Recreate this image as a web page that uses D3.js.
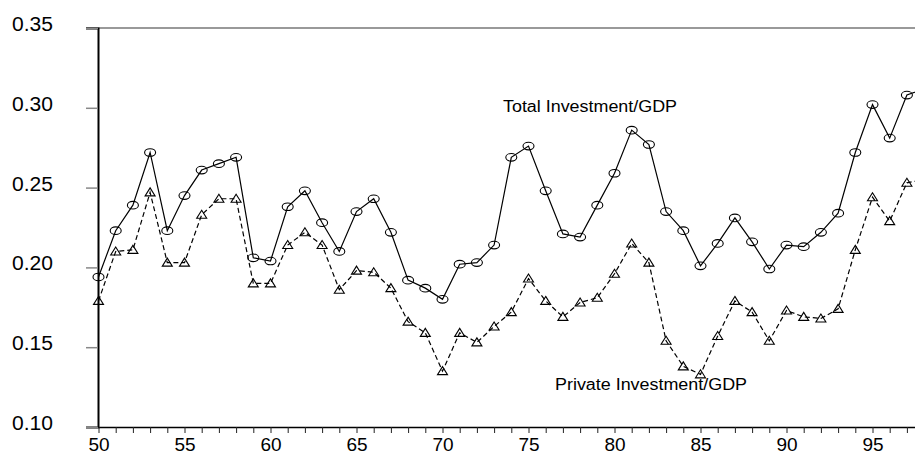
<!DOCTYPE html>
<html>
<head>
<meta charset="utf-8">
<script src="https://cdn.jsdelivr.net/npm/d3@7"></script>
<style>
    body { margin: 0; background: #fff; }
    #chart { width: 915px; height: 456px; overflow: hidden; }
    text { font-family: "Liberation Sans", Arial, sans-serif; fill: #000; font-weight: normal; }
</style>
</head>
<body>
<div id="chart"></div>
<script>
// Jahre 1950 - 1998 (zweistellig)
const years = d3.range(50, 99);

const totalInvestment = [
    0.194, 0.223, 0.239, 0.272, 0.223, 0.245, 0.261, 0.265, 0.269, 0.206,
    0.204, 0.238, 0.248, 0.228, 0.210, 0.235, 0.243, 0.222, 0.192, 0.187,
    0.180, 0.202, 0.203, 0.214, 0.269, 0.276, 0.248, 0.221, 0.219, 0.239,
    0.259, 0.286, 0.277, 0.235, 0.223, 0.201, 0.215, 0.231, 0.216, 0.199,
    0.214, 0.213, 0.222, 0.234, 0.272, 0.302, 0.281, 0.308, 0.312
];

const privateInvestment = [
    0.179, 0.210, 0.211, 0.247, 0.203, 0.203, 0.233, 0.243, 0.243, 0.190,
    0.190, 0.214, 0.222, 0.214, 0.186, 0.198, 0.197, 0.187, 0.166, 0.159,
    0.135, 0.159, 0.153, 0.163, 0.172, 0.193, 0.179, 0.169, 0.178, 0.181,
    0.196, 0.215, 0.203, 0.154, 0.138, 0.133, 0.157, 0.179, 0.172, 0.154,
    0.173, 0.169, 0.168, 0.174, 0.211, 0.244, 0.229, 0.253, 0.255
];

const yTicks = [0.10, 0.15, 0.20, 0.25, 0.30, 0.35];
const xLabelYears = [50, 55, 60, 65, 70, 75, 80, 85, 90, 95];

let width = 915;
let height = 456;

let svg = d3.select("#chart").append("svg")
    .attr("width", width)
    .attr("height", height);

// Skalen
let xscale = d3.scaleLinear().domain([50, 98]).range([98.5, 924.1]);
let yscale = d3.scaleLinear().domain([0.10, 0.35]).range([427, 28]);

// obere Rahmenlinie
svg.append("line")
    .attr("x1", 86).attr("x2", width)
    .attr("y1", 28).attr("y2", 28)
    .attr("stroke", "#777")
    .attr("stroke-width", 1.5);

// y-Achse
let yAxis = svg.append("g")
    .attr("transform", "translate(98,0)")
    .call(d3.axisLeft(yscale)
        .tickValues(yTicks)
        .tickSize(12)
        .tickPadding(33)
        .tickFormat(d3.format(".2f")));
yAxis.attr("font-family", null);
yAxis.select(".domain").attr("stroke", "#000").attr("stroke-width", 2);
yAxis.selectAll(".tick line").attr("stroke", "#888").attr("stroke-width", 1.5);
yAxis.selectAll(".tick text")
    .attr("font-size", 20)
    .attr("dy", "0.12em")
    .attr("textLength", 41)
    .attr("lengthAdjust", "spacingAndGlyphs");

// x-Achse
let xAxis = svg.append("g")
    .attr("transform", "translate(0,427)")
    .call(d3.axisBottom(xscale)
        .tickValues(years)
        .tickSize(6)
        .tickSizeOuter(0)
        .tickPadding(5)
        .tickFormat(d => xLabelYears.includes(d) ? d : ""));
xAxis.attr("font-family", null);
xAxis.select(".domain").attr("stroke", "#000").attr("stroke-width", 1.5);
xAxis.selectAll(".tick line").attr("stroke", "#222").attr("stroke-width", 1);
xAxis.selectAll(".tick text")
    .attr("font-size", 19)
    .attr("dy", "0.71em");

// Linien
let line = d3.line()
    .x((d, i) => xscale(years[i]))
    .y(d => yscale(d));

svg.append("path")
    .datum(totalInvestment)
    .attr("d", line)
    .attr("fill", "none")
    .attr("stroke", "#000")
    .attr("stroke-width", 1.2);

svg.append("path")
    .datum(privateInvestment)
    .attr("d", line)
    .attr("fill", "none")
    .attr("stroke", "#000")
    .attr("stroke-width", 1.2)
    .attr("stroke-dasharray", "5,3");

// Marker: Ellipsen fuer Total
svg.selectAll(".circ")
    .data(totalInvestment)
    .join("ellipse")
    .attr("class", "circ")
    .attr("cx", (d, i) => xscale(years[i]))
    .attr("cy", d => yscale(d))
    .attr("rx", 5.5)
    .attr("ry", 3.8)
    .attr("fill", "none")
    .attr("stroke", "#000")
    .attr("stroke-width", 1.1);

// Marker: Dreiecke fuer Private
svg.selectAll(".tri")
    .data(privateInvestment)
    .join("path")
    .attr("class", "tri")
    .attr("transform", (d, i) => `translate(${xscale(years[i])},${yscale(d)})`)
    .attr("d", "M0,-4.5L5,3.5L-5,3.5Z")
    .attr("fill", "none")
    .attr("stroke", "#000")
    .attr("stroke-width", 1.1);

// Beschriftungen
svg.append("text")
    .attr("x", 503).attr("y", 111.5)
    .attr("font-size", 16)
    .attr("textLength", 174)
    .attr("lengthAdjust", "spacingAndGlyphs")
    .text("Total Investment/GDP");

svg.append("text")
    .attr("x", 555).attr("y", 390)
    .attr("font-size", 16)
    .attr("textLength", 192)
    .attr("lengthAdjust", "spacingAndGlyphs")
    .text("Private Investment/GDP");
</script>
</body>
</html>
